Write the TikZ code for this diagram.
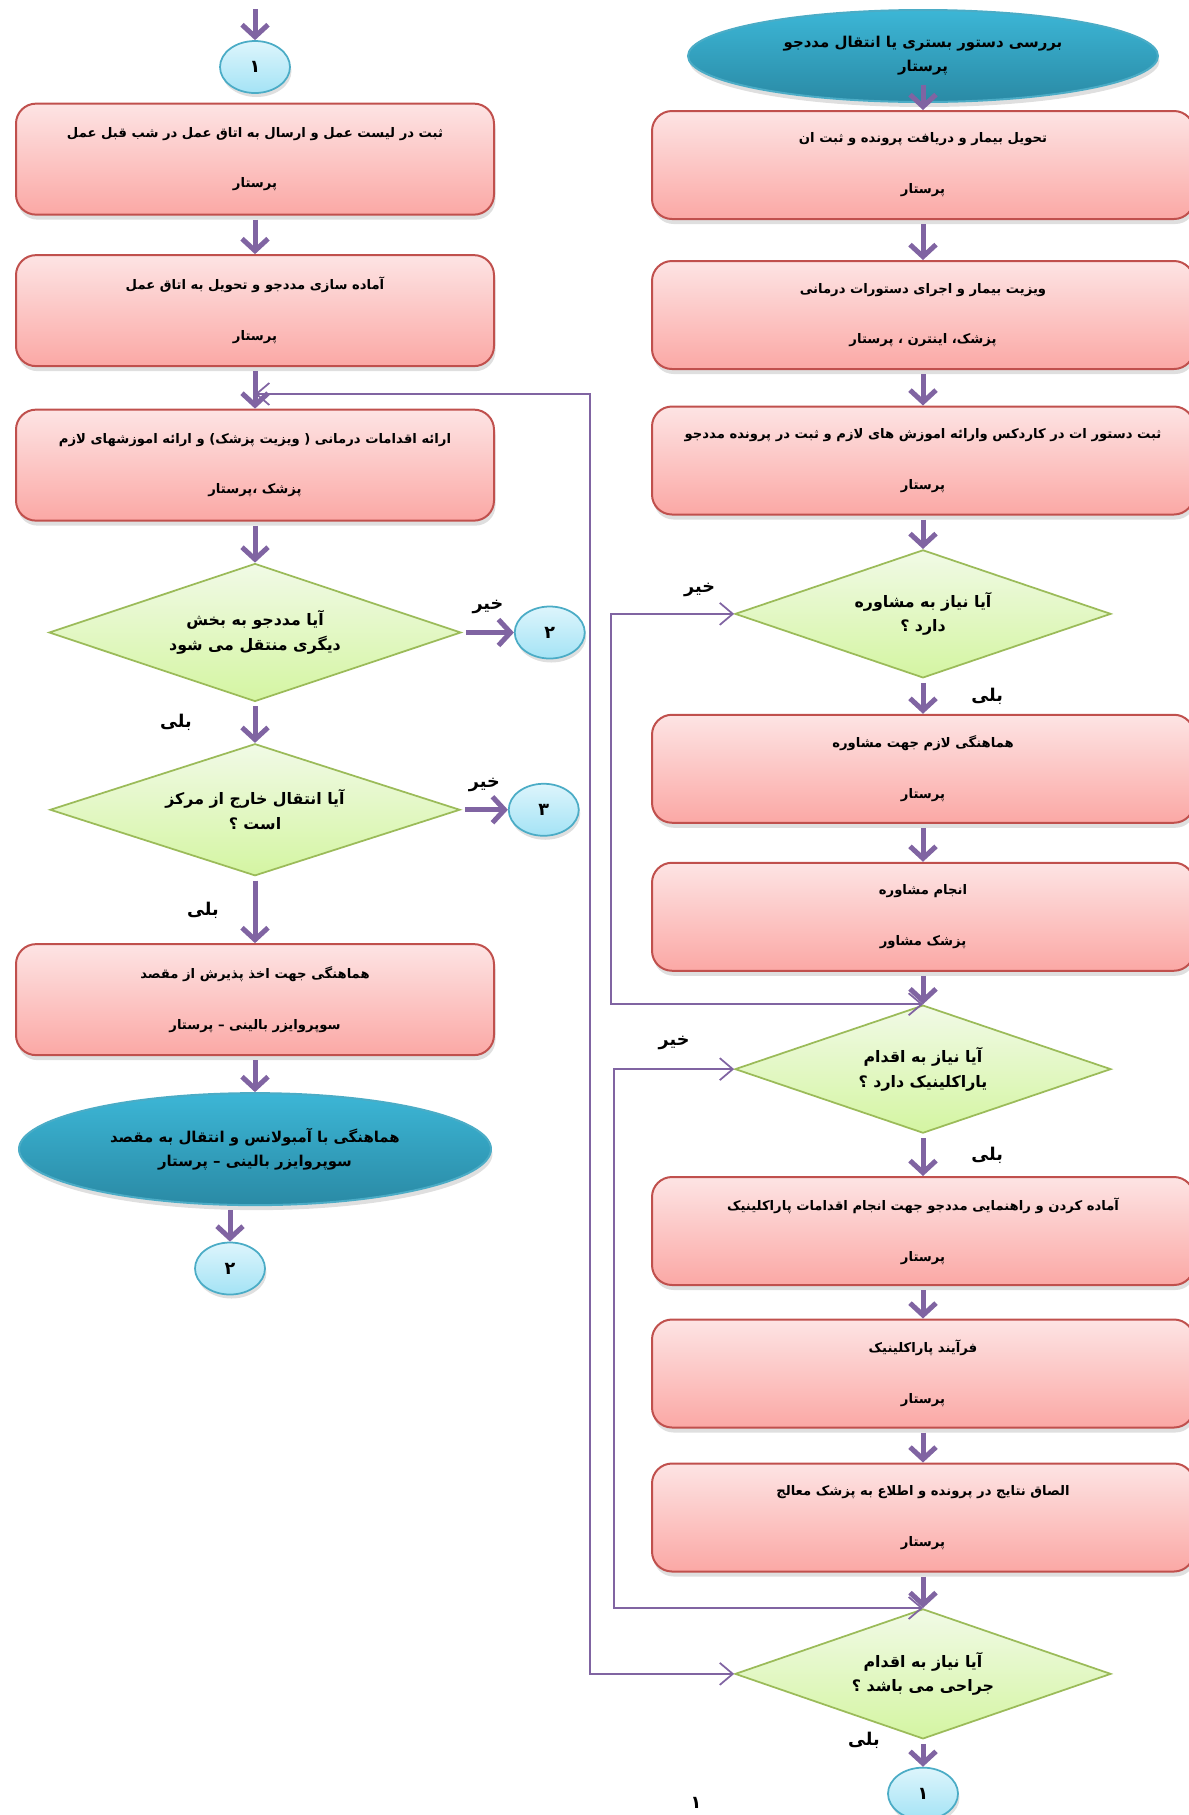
\documentclass[tikz,border=0pt]{standalone}
\usepackage{fontspec}
\usepackage{xcolor}
\usepackage{tikz}
\usetikzlibrary{shapes, arrows.meta, positioning, shadows}

\newfontfamily\fafont[Script=Arabic]{DejaVu Sans}
\TeXXeTstate=1
\newcommand{\rl}[1]{\beginR #1\endR}

\definecolor{flowpurple}{HTML}{8064A2}
\definecolor{taskline}{HTML}{C0504D}
\definecolor{tasktop}{HTML}{FDE4E4}
\definecolor{taskbot}{HTML}{FBA8A5}
\definecolor{queryline}{HTML}{9BBB59}
\definecolor{querytop}{HTML}{F1FAE6}
\definecolor{querybot}{HTML}{D4F5A2}
\definecolor{termtop}{HTML}{3CB6D6}
\definecolor{termbot}{HTML}{2A8AA5}
\definecolor{termline}{HTML}{4BACC6}
\definecolor{conntop}{HTML}{DDF5FC}
\definecolor{connbot}{HTML}{A4E3F5}

\begin{document}
\begin{tikzpicture}[
    node distance=8mm,
    task/.style={rectangle, draw=taskline, line width=0.4mm, rounded corners=4mm, top color=tasktop, bottom color=taskbot, minimum height=22.2mm, align=center, font=\fafont\bfseries\fontsize{7.5}{9}\selectfont, drop shadow={opacity=0.25, shadow xshift=0.3mm, shadow yshift=-1mm}},
    lefttask/.style={task, minimum width=95.6mm},
    righttask/.style={task, minimum width=108.4mm, minimum height=21.6mm},
    query/.style={diamond, aspect=2.9, draw=queryline, line width=0.35mm, top color=querytop, bottom color=querybot, inner sep=0pt, align=center, font=\fafont\bfseries\fontsize{9}{14}\selectfont},
    terminal/.style={ellipse, draw=termline, line width=0.4mm, top color=termtop, bottom color=termbot, inner sep=0pt, align=center, font=\fafont\bfseries\fontsize{8.5}{13.5}\selectfont, drop shadow={opacity=0.25, shadow xshift=0.3mm, shadow yshift=-1mm}},
    connector/.style={ellipse, draw=termline, line width=0.35mm, top color=conntop, bottom color=connbot, minimum width=14mm, minimum height=10.4mm, inner sep=0pt, font=\fafont\bfseries\fontsize{10}{12}\selectfont, drop shadow={opacity=0.25, shadow xshift=0.3mm, shadow yshift=-0.8mm}},
    arrow/.style={-{Straight Barb[length=2.4mm,width=5.2mm]}, line width=1mm, draw=flowpurple, shorten <=0.8mm},
    back/.style={<->, >={Straight Barb[length=2.6mm,width=4.4mm]}, line width=0.35mm, draw=flowpurple},
    lbl/.style={font=\fafont\bfseries\fontsize{10}{12}\selectfont}
]
\useasboundingbox (0,0) rectangle (237.8mm,-363mm);

% Left column
\coordinate (inflow) at (51mm,-1mm);
\node[connector] (conA) at (51mm,-13.4mm) {\rl{۱}};
\node[lefttask, below=1.75mm of conA] (record) {\rl{ثبت در لیست عمل و ارسال به اتاق عمل در شب قبل عمل}\\[7mm]\rl{پرستار}};
\node[lefttask, below=7.7mm of record] (prepare) {\rl{آماده سازی مددجو و تحویل به اتاق عمل}\\[7mm]\rl{پرستار}};
\node[lefttask, below=8.3mm of prepare] (treat) {\rl{ارائه اقدامات درمانی ( ویزیت پزشک) و ارائه اموزشهای لازم}\\[7mm]\rl{پزشک ،پرستار}};
\node[query, minimum width=82.4mm, minimum height=27.6mm, below=8.2mm of treat] (qward) {\rl{آیا مددجو به بخش}\\\rl{دیگری منتقل می شود}};
\node[connector, right=10.4mm of qward] (conB) {\rl{۲}};
\node[query, minimum width=82mm, minimum height=26.4mm, below=8.1mm of qward] (qout) {\rl{آیا انتقال خارج از مرکز}\\\rl{است ؟}};
\node[connector, right=9.4mm of qout] (conC) {\rl{۳}};
\node[lefttask, below=13.3mm of qout] (admit) {\rl{هماهنگی جهت اخذ پذیرش از مقصد}\\[7mm]\rl{سوپروایزر بالینی – پرستار}};
\node[terminal, minimum width=94.4mm, minimum height=22.4mm, below=7.2mm of admit] (ambulance) {\rl{هماهنگی با آمبولانس و انتقال به مقصد}\\\rl{سوپروایزر بالینی – پرستار}};
\node[connector, below=7.1mm of ambulance, xshift=-5mm] (conD) {\rl{۲}};

% Right column
\node[terminal, minimum width=94mm, minimum height=18.4mm] (start) at (184.6mm,-11.2mm) {\rl{بررسی دستور بستری یا انتقال مددجو}\\\rl{پرستار}};
\node[righttask, below=1.4mm of start] (handover) {\rl{تحویل بیمار و دریافت پرونده و ثبت ان}\\[7mm]\rl{پرستار}};
\node[righttask, below=8mm of handover] (visit) {\rl{ویزیت بیمار و اجرای دستورات درمانی}\\[7mm]\rl{پزشک، اینترن ، پرستار}};
\node[righttask, below=7.1mm of visit] (kardex) {\rl{ثبت دستور ات در کاردکس وارائه اموزش های لازم و ثبت در پرونده مددجو}\\[7mm]\rl{پرستار}};
\node[query, minimum width=75.2mm, minimum height=25.6mm, below=6.7mm of kardex] (qconsult) {\rl{آیا نیاز به مشاوره}\\\rl{دارد ؟}};
\node[righttask, below=7mm of qconsult] (arrange) {\rl{هماهنگی لازم جهت مشاوره}\\[7mm]\rl{پرستار}};
\node[righttask, below=7.6mm of arrange] (consult) {\rl{انجام مشاوره}\\[7mm]\rl{پزشک مشاور}};
\node[query, minimum width=75.2mm, minimum height=25.6mm, below=6.5mm of consult] (qpara) {\rl{آیا نیاز به اقدام}\\\rl{یاراکلینیک دارد ؟}};
\node[righttask, below=8.4mm of qpara] (preppara) {\rl{آماده کردن و راهنمایی مددجو جهت انجام اقدامات پاراکلینیک}\\[7mm]\rl{پرستار}};
\node[righttask, below=6.5mm of preppara] (para) {\rl{فرآیند پاراکلینیک}\\[7mm]\rl{پرستار}};
\node[righttask, below=6.8mm of para] (attach) {\rl{الصاق نتایج در پرونده و اطلاع به پزشک معالج}\\[7mm]\rl{پرستار}};
\node[query, minimum width=75.2mm, minimum height=26mm, below=7.1mm of attach] (qsurg) {\rl{آیا نیاز به اقدام}\\\rl{جراحی می باشد ؟}};
\node[connector, below=5.4mm of qsurg] (conE) {\rl{۱}};

\node[lbl] (pagenum) at (139.2mm,-360.6mm) {\rl{۱}};

% Arrows
\draw[arrow] (inflow) -- (conA);
\draw[arrow] (record) -- (prepare);
\draw[arrow] (prepare) -- (treat);
\draw[arrow] (treat) -- (qward);
\draw[arrow] (qward) -- node[lbl, above=2mm] {\rl{خیر}} (conB);
\draw[arrow] (qward) -- node[lbl, left=11mm] {\rl{بلی}} (qout);
\draw[arrow] (qout) -- node[lbl, above=2mm] {\rl{خیر}} (conC);
\draw[arrow] (qout) -- node[lbl, left=5.6mm] {\rl{بلی}} (admit);
\draw[arrow] (admit) -- (ambulance);
\draw[arrow] (ambulance.south -| conD) -- (conD);

\draw[arrow] ([yshift=-5mm]start.center) -- (handover);
\draw[arrow] (handover) -- (visit);
\draw[arrow] (visit) -- (kardex);
\draw[arrow] (kardex) -- (qconsult);
\draw[arrow] (qconsult) -- node[lbl, right=8mm] {\rl{بلی}} (arrange);
\draw[arrow] (arrange) -- (consult);
\draw[arrow] (consult) -- (qpara);
\draw[arrow] (qpara) -- node[lbl, right=8mm] {\rl{بلی}} (preppara);
\draw[arrow] (preppara) -- (para);
\draw[arrow] (para) -- (attach);
\draw[arrow] (attach) -- (qsurg);
\draw[arrow] (qsurg) -- node[lbl, left=7mm, yshift=2.6mm] {\rl{بلی}} (conE);

% Return lines
\coordinate (retA) at (118mm,-78.8mm);
\draw[back] (qconsult.west) -- node[lbl, above=2mm, pos=0.28] {\rl{خیر}} ++(-24.7mm,0) |- (qpara.north);
\draw[back] (qpara.west) -- node[lbl, above=2.5mm] {\rl{خیر}} ++(-24mm,0) |- (qsurg.north);
\draw[back] (qsurg.west) -| (retA) -- (retA -| treat.north);

\end{tikzpicture}
\end{document}
